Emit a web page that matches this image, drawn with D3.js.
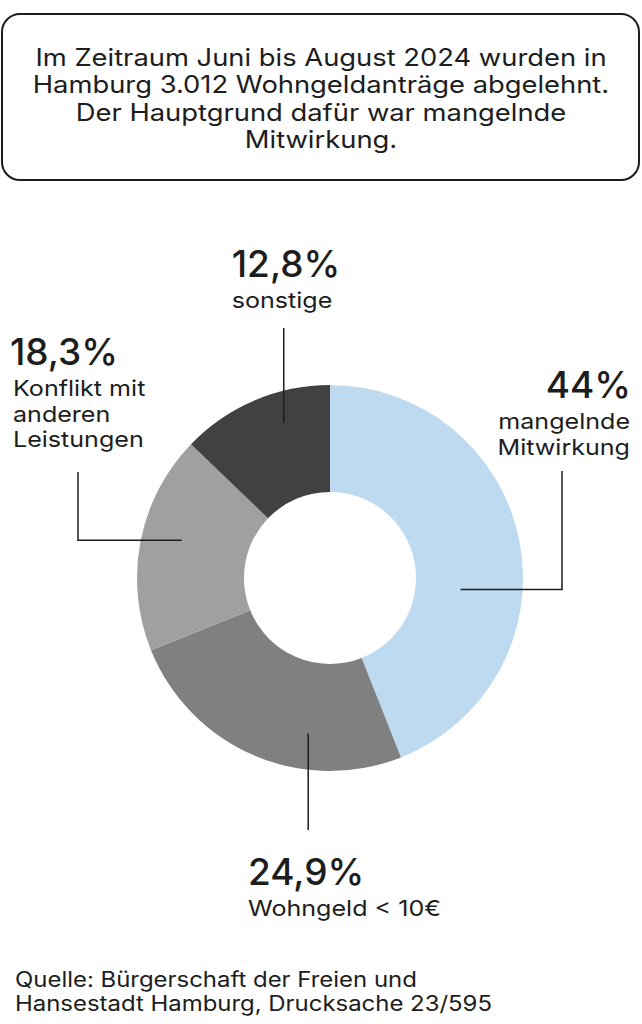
<!DOCTYPE html>
<html>
<head>
<meta charset="utf-8">
<script src="https://cdn.jsdelivr.net/npm/d3@7"></script>
<style>
  body { margin: 0; background: #fff; }
  svg { display: block; font-family: Inter, "Noto Sans", sans-serif; }
</style>
</head>
<body>
<svg id="chart" width="642" height="1024"></svg>
<script>
// ---------- data ----------
const categories = ["mangelnde Mitwirkung", "Wohngeld < 10€", "Konflikt mit anderen Leistungen", "sonstige"];
const shares = [44, 24.9, 18.3, 12.8];
const shareLabels = ["44%", "24,9%", "18,3%", "12,8%"];
const labelLines = [["mangelnde", "Mitwirkung"], ["Wohngeld < 10€"], ["Konflikt mit", "anderen", "Leistungen"], ["sonstige"]];
const titleLines = [
  "Im Zeitraum Juni bis August 2024 wurden in",
  "Hamburg 3.012 Wohngeldanträge abgelehnt.",
  "Der Hauptgrund dafür war mangelnde",
  "Mitwirkung."
];
const sourceLines = ["Quelle: Bürgerschaft der Freien und", "Hansestadt Hamburg, Drucksache 23/595"];

// ---------- layout ----------
const sliceColors = ["#bddaf1", "#808080", "#a0a0a0", "#414141"];
const textColor = "#1d1d1d";
const cx = 330, cy = 578, outerR = 193, innerR = 86;
const stretch = 1.14; // body text in the original is set wider than plain Inter

// label placement per slice: anchor, text position, leader (angle fraction inside slice, radius, elbow)
const labelLayout = [
  { anchor: "end",    x: 631, subX: 630, y: 398, frac: 0.6,  r: 131, elbow: { x: 562, y: 471 } },
  { anchor: "start",  x: 248, subX: 248, y: 885, frac: 0.33, r: 157, vertical: 830 },
  { anchor: "start",  x: 10,  subX: 13,  y: 365, frac: 0.55, r: 153, elbow: { x: 78, y: 472 } },
  { anchor: "middle", x: 286, subX: 282, y: 277, frac: 0.64, r: 162, vertical: 328 }
];

const svg = d3.select("#chart");

// text that is stretched horizontally around its anchor
function wideText(parent, x, y, str, size, anchor) {
  parent.append("g")
    .attr("transform", `translate(${x},${y}) scale(${stretch},1)`)
    .append("text")
    .attr("text-anchor", anchor)
    .attr("font-size", size)
    .attr("fill", textColor)
    .text(str);
}

// title box
svg.append("rect")
  .attr("x", 2).attr("y", 14)
  .attr("width", 637).attr("height", 166)
  .attr("rx", 18)
  .attr("fill", "none")
  .attr("stroke", "#1d1d1d")
  .attr("stroke-width", 2);

const title = svg.append("g");
titleLines.forEach((line, i) => wideText(title, 321, 66 + i * 27.4, line, 24, "middle"));

// donut
const pie = d3.pie().value(d => d).sort(null);
const arcs = pie(shares);
const arc = d3.arc().innerRadius(innerR).outerRadius(outerR);

const g = svg.append("g").attr("transform", `translate(${cx},${cy})`);
g.selectAll("path")
  .data(arcs)
  .join("path")
  .attr("d", arc)
  .attr("fill", (d, i) => sliceColors[i]);

// leader lines
function innerPoint(a, i) {
  const L = labelLayout[i];
  const ang = a.startAngle + (a.endAngle - a.startAngle) * L.frac;
  return [cx + L.r * Math.sin(ang), cy - L.r * Math.cos(ang)];
}

const leaders = svg.append("g")
  .attr("fill", "none")
  .attr("stroke", "#1d1d1d")
  .attr("stroke-width", 1.5);

arcs.forEach((a, i) => {
  const L = labelLayout[i];
  const p = innerPoint(a, i);
  let pts;
  if (L.elbow) {
    pts = [[L.elbow.x, L.elbow.y], [L.elbow.x, p[1]], p];
  } else {
    pts = [[p[0], L.vertical], p];
  }
  leaders.append("path").attr("d", d3.line()(pts));
});

// labels
arcs.forEach((a, i) => {
  const L = labelLayout[i];
  const t = svg.append("g");
  t.append("text")
    .attr("x", L.x)
    .attr("y", L.y)
    .attr("text-anchor", L.anchor)
    .attr("font-size", 37)
    .attr("font-weight", 500)
    .attr("fill", textColor)
    .text(shareLabels[i]);
  labelLines[i].forEach((line, j) => wideText(t, L.subX, L.y + 31 + j * 25.5, line, 22, L.anchor));
});

// source
const source = svg.append("g");
sourceLines.forEach((line, i) => wideText(source, 15, 987 + i * 24, line, 21, "start"));
</script>
</body>
</html>
